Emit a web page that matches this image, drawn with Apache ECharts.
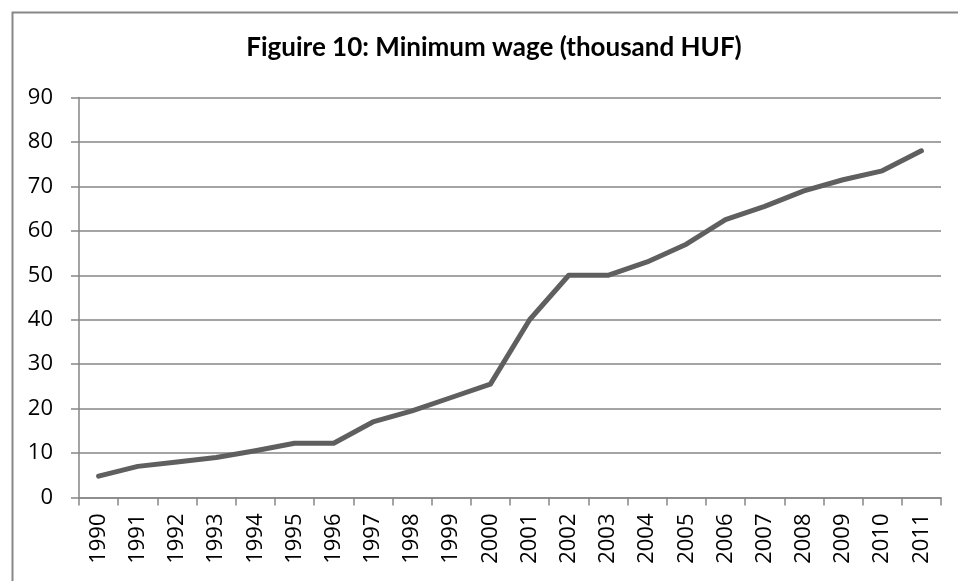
<!DOCTYPE html>
<html>
<head>
<meta charset="utf-8">
<script src="https://cdn.jsdelivr.net/npm/echarts@6/dist/echarts.min.js"></script>
<style>
html,body{margin:0;padding:0;background:#fff;}
#chart{width:958px;height:581px;}
</style>
</head>
<body>
<div id="chart"></div>
<script>
const titleText = 'Figuire 10: Minimum wage (thousand HUF)';
const years = ['1990','1991','1992','1993','1994','1995','1996','1997','1998','1999','2000','2001','2002','2003','2004','2005','2006','2007','2008','2009','2010','2011'];
const minWage = [4.8, 7, 8, 9, 10.5, 12.2, 12.2, 17, 19.5, 22.5, 25.5, 40, 50, 50, 53, 57, 62.5, 65.5, 69, 71.5, 73.5, 78];
const yTicks = {min: 0, max: 90, interval: 10};

const chart = echarts.init(document.getElementById('chart'), null, {renderer: 'canvas'});
chart.setOption({
  animation: false,
  backgroundColor: '#ffffff',
  title: {
    text: titleText,
    left: 489, top: 30, textAlign: 'center',
    textStyle: {fontFamily: 'Lato', fontWeight: 'bold', fontSize: 26, color: '#000'}
  },
  graphic: [{
    type: 'rect', left: 10, top: 10, silent: true,
    shape: {width: 1000, height: 1000},
    style: {fill: 'none', stroke: '#878787', lineWidth: 2}
  }],
  grid: {left: 79, right: 17, top: 97.5, bottom: 83.5, containLabel: false},
  xAxis: {
    type: 'category',
    data: years,
    boundaryGap: true,
    axisLine: {lineStyle: {color: '#868686', width: 1.5}},
    axisTick: {show: true, length: 8, alignWithLabel: false, lineStyle: {color: '#868686', width: 1.5}},
    axisLabel: {rotate: 90, interval: 0, margin: 16, fontFamily: 'Open Sans', fontSize: 22, color: '#000'}
  },
  yAxis: {
    type: 'value',
    min: yTicks.min, max: yTicks.max, interval: yTicks.interval,
    axisLine: {show: true, lineStyle: {color: '#868686', width: 1.5}},
    axisTick: {show: true, length: 8, lineStyle: {color: '#868686', width: 1.5}},
    splitLine: {show: true, lineStyle: {color: '#868686', width: 1.5}},
    axisLabel: {margin: 26, fontFamily: 'Open Sans', fontSize: 22, color: '#000'}
  },
  series: [{
    type: 'line',
    data: minWage,
    showSymbol: false,
    symbol: 'none',
    lineStyle: {color: '#5f5f5f', width: 5, cap: 'round', join: 'round'}
  }]
});
</script>
</body>
</html>
